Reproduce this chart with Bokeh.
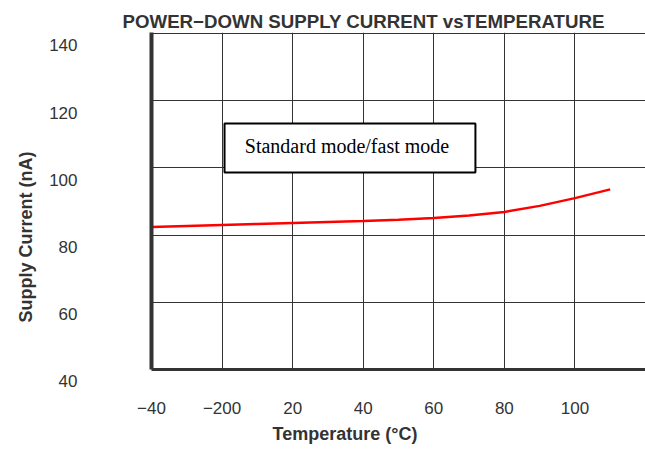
from bokeh.plotting import figure
from bokeh.models import Range1d, FixedTicker, Label, BoxAnnotation, Title
from bokeh.embed import file_html
from bokeh.resources import INLINE

# ---- data ----
temperature = [-20, -10, 0, 10, 20, 30, 40, 50, 60, 70, 80, 90, 100, 110]
supply_current = [82.4, 82.7, 83.0, 83.3, 83.6, 83.9, 84.2, 84.6, 85.1, 85.8, 86.9, 88.7, 91.0, 93.6]

x_ticks = [-20, 0, 20, 40, 60, 80, 100]
x_tick_labels = ["\u221240", "\u2212200", "20", "40", "60", "80", "100"]
y_ticks = [40, 60, 80, 100, 120, 140]
y_tick_labels = ["40", "60", "80", "100", "120", "140"]

title_text = "POWER\u2212DOWN SUPPLY CURRENT vsTEMPERATURE"
x_title = "Temperature  (\u00b0C)"
y_title = "Supply Current (nA)"
legend_text = "Standard mode/fast mode"

GRID = "#333333"
TXT = "#333333"
SANS = "Liberation Sans"

X0, X1 = -20, 120
Y0, Y1 = 40, 140.3

p = figure(width=645, height=450, output_backend="svg", toolbar_location=None,
           x_range=Range1d(X0, X1), y_range=Range1d(Y0, Y1),
           min_border_left=151, min_border_right=0, min_border_top=32, min_border_bottom=81)
p.outline_line_color = None
p.background_fill_color = "white"
p.border_fill_color = "white"

# title
p.title.text = title_text
p.title.align = "left"
p.title.offset = -29
p.title.standoff = 2
p.title.text_font = SANS
p.title.text_font_size = "18.7px"
p.title.text_font_style = "bold"
p.title.text_color = TXT

# x axis
xa = p.xaxis[0]
xa.ticker = FixedTicker(ticks=x_ticks)
xa.major_label_overrides = {t: l for t, l in zip(x_ticks, x_tick_labels)}
xa.major_tick_line_color = None
xa.minor_tick_line_color = None
xa.major_tick_out = 0
xa.major_tick_in = 0
xa.major_label_standoff = 32
xa.major_label_text_font = SANS
xa.major_label_text_font_size = "17px"
xa.major_label_text_color = TXT
xa.axis_line_color = GRID
xa.axis_line_width = 3

# y axis: labels sit a little below their grid lines, as in the reference
ya = p.yaxis[0]
ya.ticker = FixedTicker(ticks=y_ticks)
ya.major_label_overrides = {t: "\n" + l for t, l in zip(y_ticks, y_tick_labels)}
ya.major_label_text_line_height = 1.3
ya.major_tick_line_color = None
ya.minor_tick_line_color = None
ya.major_tick_out = 0
ya.major_tick_in = 0
ya.major_label_standoff = 74
ya.major_label_text_font = SANS
ya.major_label_text_font_size = "17px"
ya.major_label_text_color = TXT
ya.axis_line_color = GRID
ya.axis_line_width = 4

p.xgrid.grid_line_color = GRID
p.xgrid.grid_line_width = 1
p.ygrid.grid_line_color = GRID
p.ygrid.grid_line_width = 1

# axis titles
p.add_layout(Title(text=y_title, align="left", offset=47, standoff=22, vertical_align="bottom",
                   text_font=SANS, text_font_size="18px", text_font_style="bold",
                   text_color=TXT), "left")
p.add_layout(Title(text=x_title, align="left", offset=121, standoff=10, vertical_align="bottom",
                   text_line_height=0.8,
                   text_font=SANS, text_font_size="18px", text_font_style="bold",
                   text_color=TXT), "below")

# curve
p.line(temperature, supply_current, line_color="#ff0000", line_width=2.5)

# legend-like box
p.add_layout(BoxAnnotation(left=0.7, right=71.8, bottom=98.6, top=113.2,
                           fill_color="white", fill_alpha=1.0,
                           line_color="black", line_width=2, line_alpha=1.0))
p.add_layout(Label(x=35.4, y=106.4, text=legend_text, text_align="center", text_baseline="middle",
                   text_font="Liberation Serif", text_font_size="20px", text_color="black"))

open("out.html", "w").write(file_html(p, INLINE))
